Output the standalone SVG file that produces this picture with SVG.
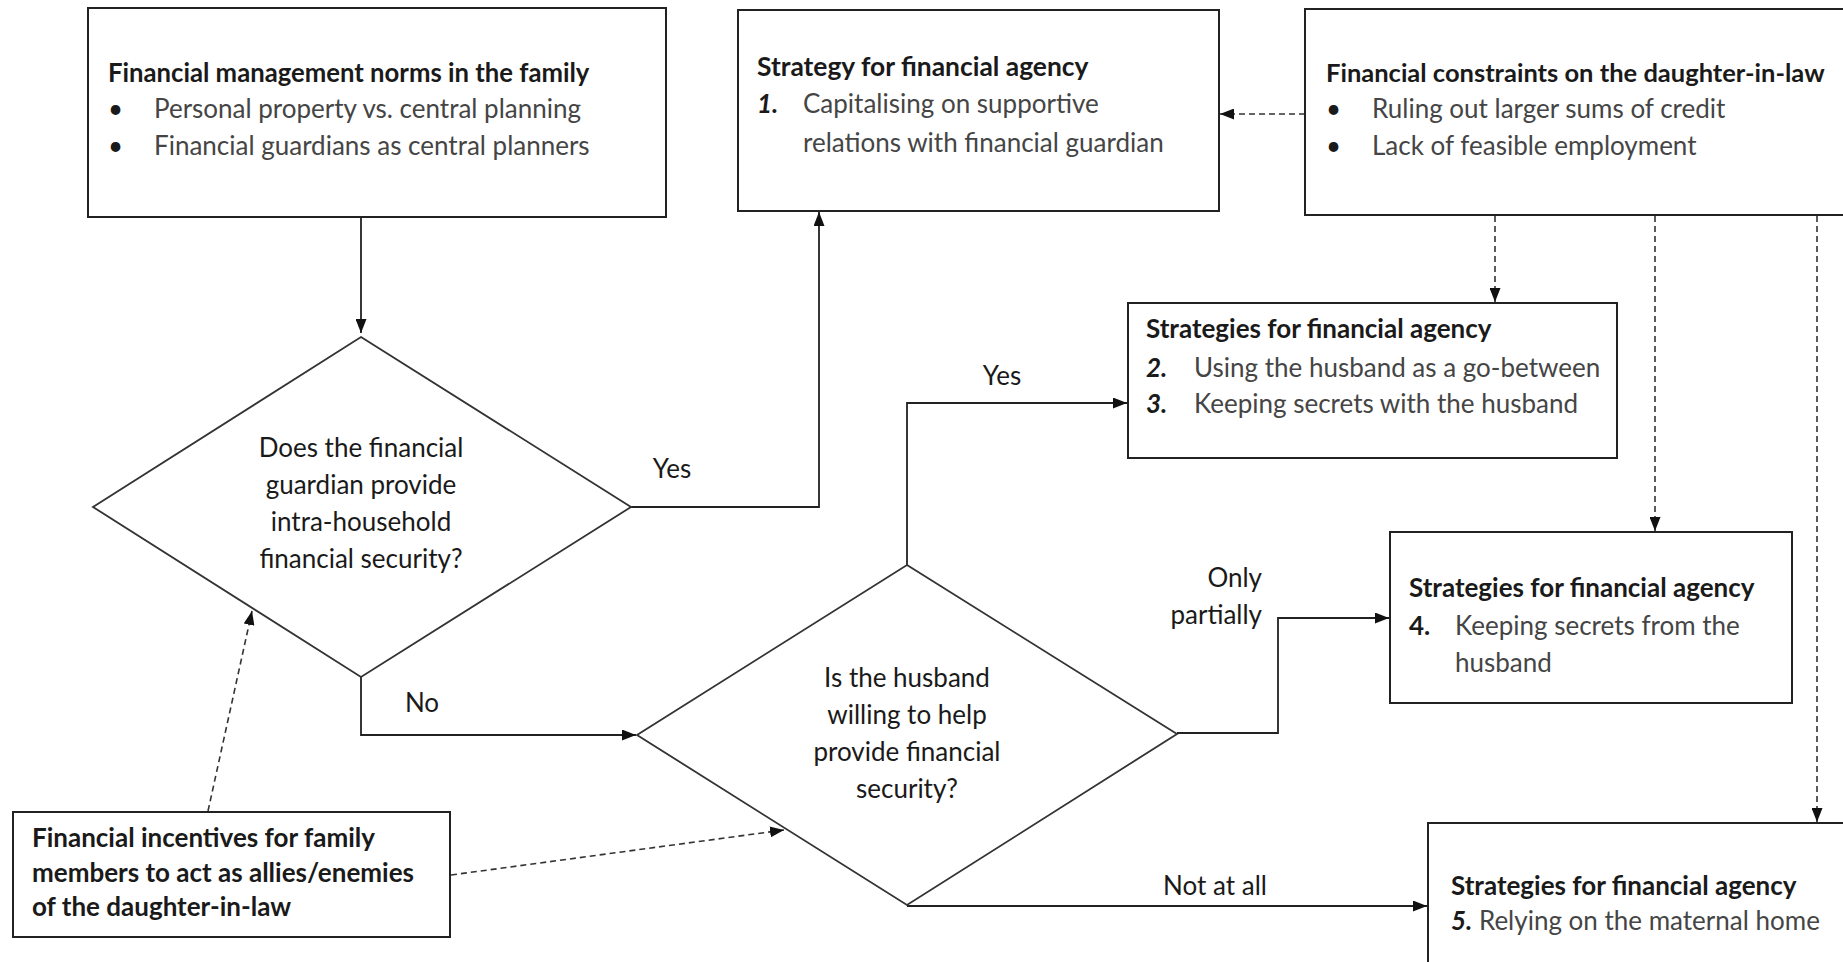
<svg xmlns="http://www.w3.org/2000/svg" width="1843" height="962" viewBox="0 0 1843 962">
<style>
text{font-family:Lato,"Open Sans","Liberation Sans",sans-serif;font-size:26px;fill:#1a1a1a}
.t{font-weight:700}
.b{fill:#454545}
.n{font-weight:700;font-style:italic}
.c{text-anchor:middle}
.r{text-anchor:end}
.box{fill:#fff;stroke:#222;stroke-width:2}
.dia{fill:#fff;stroke:#333;stroke-width:1.8}
.ln{fill:none;stroke:#222;stroke-width:1.8}
.dl{fill:none;stroke:#333;stroke-width:1.6;stroke-dasharray:6 4}
</style>
<defs>
<marker id="ah" viewBox="0 0 14 11" refX="14" refY="5.5" markerWidth="14" markerHeight="11" markerUnits="userSpaceOnUse" orient="auto"><path d="M0,0 L14,5.5 L0,11 z" fill="#111"/></marker>
</defs>
<rect width="1843" height="962" fill="#fff"/>

<g id="connectors">
<path class="ln" d="M361,217 V333" marker-end="url(#ah)"/>
<path class="ln" d="M631,507 H819 V212" marker-end="url(#ah)"/>
<path class="ln" d="M361,677 V735 H636" marker-end="url(#ah)"/>
<path class="ln" d="M907,565 V403 H1127" marker-end="url(#ah)"/>
<path class="ln" d="M1177,733 H1278 V618 H1389" marker-end="url(#ah)"/>
<path class="ln" d="M907,906 H1427" marker-end="url(#ah)"/>
<path class="dl" d="M1305,114 H1220" marker-end="url(#ah)"/>
<path class="dl" d="M1495,216 V302" marker-end="url(#ah)"/>
<path class="dl" d="M1655,216 V531" marker-end="url(#ah)"/>
<path class="dl" d="M1817,216 V822" marker-end="url(#ah)"/>
<path class="dl" d="M208,811 L252,611" marker-end="url(#ah)"/>
<path class="dl" d="M451,875 L784,830" marker-end="url(#ah)"/>
<text class="c" x="672" y="478">Yes</text>
<text class="c" x="422" y="712">No</text>
<text class="c" x="1002" y="385">Yes</text>
<text class="r" x="1262" y="587">Only</text>
<text class="r" x="1262" y="624">partially</text>
<text class="c" x="1215" y="895">Not at all</text>
</g>

<g id="norms">
<rect class="box" x="88" y="8" width="578" height="209"/>
<text class="t" x="108" y="82" style="font-size:25.7px">Financial management norms in the family</text>
<text x="108" y="118">•</text><text class="b" x="154" y="118">Personal property vs. central planning</text>
<text x="108" y="155">•</text><text class="b" x="154" y="155">Financial guardians as central planners</text>
</g>

<g id="strategy1">
<rect class="box" x="738" y="10" width="481" height="201"/>
<text class="t" x="757" y="76" style="font-size:26.4px">Strategy for financial agency</text>
<text class="n" x="757" y="113">1.</text>
<text class="b" x="803" y="113">Capitalising on supportive</text>
<text class="b" x="803" y="152">relations with financial guardian</text>
</g>

<g id="constraints">
<rect class="box" x="1305" y="9" width="560" height="206"/>
<text class="t" x="1326" y="82" style="font-size:25.5px">Financial constraints on the daughter-in-law</text>
<text x="1326" y="118">•</text><text class="b" x="1372" y="118">Ruling out larger sums of credit</text>
<text x="1326" y="155">•</text><text class="b" x="1372" y="155">Lack of feasible employment</text>
</g>

<g id="strategy23">
<rect class="box" x="1128" y="303" width="489" height="155"/>
<text class="t" x="1146" y="338">Strategies for financial agency</text>
<text class="n" x="1146" y="377">2.</text><text class="b" x="1194" y="377">Using the husband as a go-between</text>
<text class="n" x="1146" y="413">3.</text><text class="b" x="1194" y="413">Keeping secrets with the husband</text>
</g>

<g id="strategy4">
<rect class="box" x="1390" y="532" width="402" height="171"/>
<text class="t" x="1409" y="597">Strategies for financial agency</text>
<text class="t" x="1409" y="635">4.</text><text class="b" x="1455" y="635">Keeping secrets from the</text>
<text class="b" x="1455" y="672">husband</text>
</g>

<g id="strategy5">
<rect class="box" x="1428" y="823" width="440" height="160"/>
<text class="t" x="1451" y="895">Strategies for financial agency</text>
<text x="1451" y="930"><tspan class="n">5.</tspan><tspan class="b"> Relying on the maternal home</tspan></text>
</g>

<g id="incentives">
<rect class="box" x="13" y="812" width="437" height="125"/>
<text class="t" x="32" y="847">Financial incentives for family</text>
<text class="t" x="32" y="882">members to act as allies/enemies</text>
<text class="t" x="32" y="916">of the daughter-in-law</text>
</g>

<g id="q1">
<polygon class="dia" points="361,337 631,507 361,677 93,507"/>
<text class="c" x="361" y="457">Does the financial</text>
<text class="c" x="361" y="494">guardian provide</text>
<text class="c" x="361" y="531">intra-household</text>
<text class="c" x="361" y="568">financial security?</text>
</g>

<g id="q2">
<polygon class="dia" points="907,565 1177,734 907,905 637,735"/>
<text class="c" x="907" y="687">Is the husband</text>
<text class="c" x="907" y="724">willing to help</text>
<text class="c" x="907" y="761">provide financial</text>
<text class="c" x="907" y="798">security?</text>
</g>
</svg>
